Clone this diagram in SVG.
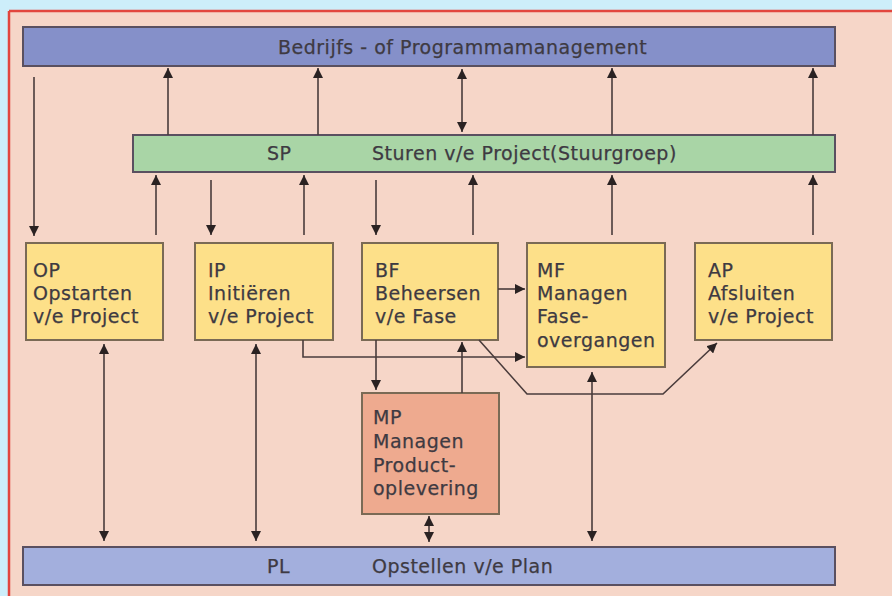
<svg xmlns="http://www.w3.org/2000/svg" width="892" height="596" viewBox="0 0 892 596">
  <defs>
    <marker id="ah" viewBox="0 0 10 10" refX="10" refY="5" markerWidth="10" markerHeight="10" markerUnits="userSpaceOnUse" orient="auto-start-reverse">
      <path d="M0,0 L10,5 L0,10 z" fill="#2a2222"/>
    </marker>
    <style>
      .bar { stroke: #5a5060; stroke-width: 2; }
      .box { stroke: #7a6a55; stroke-width: 2; }
      .t { font-family: "DejaVu Sans", "Open Sans", sans-serif; font-size: 19px; letter-spacing: 0.5px; fill: #3e3a42; stroke: #3e3a42; stroke-width: 0.25; }
      .c line, .c polyline { stroke: #4a3c3c; stroke-width: 1.6; fill: none; }
      .one { marker-end: url(#ah); }
      .two { marker-start: url(#ah); marker-end: url(#ah); }
    </style>
  </defs>

  <!-- page background and frame -->
  <rect x="0" y="0" width="892" height="596" fill="#cdeefa"/>
  <rect x="9" y="11" width="883" height="585" fill="#f6d6c8"/>
  <line x1="9" y1="11" x2="892" y2="11" stroke="#e2463e" stroke-width="2.5"/>
  <line x1="9" y1="11" x2="9" y2="596" stroke="#e2463e" stroke-width="2.5"/>

  <!-- top management bar -->
  <g id="top">
    <rect class="bar" x="23" y="27" width="812" height="39" fill="#8590c9"/>
    <text class="t" x="278" y="54">Bedrijfs - of Programmamanagement</text>
  </g>

  <!-- steering group bar -->
  <g id="sp">
    <rect class="bar" x="133" y="135" width="702" height="37" fill="#a9d5a6"/>
    <text class="t" x="267" y="160">SP</text>
    <text class="t" x="372" y="160">Sturen v/e Project(Stuurgroep)</text>
  </g>

  <!-- process boxes -->
  <g id="op">
    <rect class="box" x="26" y="243" width="137" height="97" fill="#fde089"/>
    <text class="t" x="33" y="277">OP</text>
    <text class="t" x="33" y="300">Opstarten</text>
    <text class="t" x="33" y="323">v/e Project</text>
  </g>
  <g id="ip">
    <rect class="box" x="195" y="243" width="138" height="97" fill="#fde089"/>
    <text class="t" x="208" y="277">IP</text>
    <text class="t" x="208" y="300">Initiëren</text>
    <text class="t" x="208" y="323">v/e Project</text>
  </g>
  <g id="bf">
    <rect class="box" x="362" y="243" width="136" height="97" fill="#fde089"/>
    <text class="t" x="375" y="277">BF</text>
    <text class="t" x="375" y="300">Beheersen</text>
    <text class="t" x="375" y="323">v/e Fase</text>
  </g>
  <g id="mf">
    <rect class="box" x="527" y="243" width="138" height="124" fill="#fde089"/>
    <text class="t" x="537" y="277">MF</text>
    <text class="t" x="537" y="300">Managen</text>
    <text class="t" x="537" y="323">Fase-</text>
    <text class="t" x="537" y="347">overgangen</text>
  </g>
  <g id="ap">
    <rect class="box" x="695" y="243" width="137" height="97" fill="#fde089"/>
    <text class="t" x="708" y="277">AP</text>
    <text class="t" x="708" y="300">Afsluiten</text>
    <text class="t" x="708" y="323">v/e Project</text>
  </g>
  <g id="mp">
    <rect class="box" x="362" y="393" width="137" height="121" fill="#eeaa8f"/>
    <text class="t" x="373" y="424">MP</text>
    <text class="t" x="373" y="448">Managen</text>
    <text class="t" x="373" y="472">Product-</text>
    <text class="t" x="373" y="495">oplevering</text>
  </g>

  <!-- plan bar -->
  <g id="pl">
    <rect class="bar" x="23" y="547" width="812" height="38" fill="#a3afdd"/>
    <text class="t" x="267" y="573">PL</text>
    <text class="t" x="372" y="573">Opstellen v/e Plan</text>
  </g>

  <!-- connectors -->
  <g id="connectors" class="c">
    <!-- management / steering -->
    <line class="one" x1="34" y1="77" x2="34" y2="236"/>
    <line class="one" x1="168" y1="135" x2="168" y2="68"/>
    <line class="one" x1="318" y1="135" x2="318" y2="68"/>
    <line class="two" x1="462" y1="69" x2="462" y2="132"/>
    <line class="one" x1="612" y1="135" x2="612" y2="68"/>
    <line class="one" x1="813" y1="135" x2="813" y2="68"/>

    <!-- steering / processes -->
    <line class="one" x1="156" y1="235" x2="156" y2="175"/>
    <line class="one" x1="211" y1="180" x2="211" y2="235"/>
    <line class="one" x1="304" y1="235" x2="304" y2="175"/>
    <line class="one" x1="376" y1="180" x2="376" y2="235"/>
    <line class="one" x1="473" y1="235" x2="473" y2="175"/>
    <line class="one" x1="612" y1="235" x2="612" y2="175"/>
    <line class="one" x1="813" y1="235" x2="813" y2="175"/>

    <!-- processes / plan -->
    <line class="two" x1="104" y1="344" x2="104" y2="541"/>
    <line class="two" x1="256" y1="344" x2="256" y2="541"/>
    <line class="two" x1="592" y1="372" x2="592" y2="541"/>
    <line class="two" x1="429" y1="516" x2="429" y2="542"/>

    <!-- between processes -->
    <line class="one" x1="498" y1="289" x2="525" y2="289"/>
    <polyline class="one" points="303,340 303,357 525,357"/>
    <line class="one" x1="376" y1="340" x2="376" y2="390"/>
    <line class="one" x1="462" y1="393" x2="462" y2="342"/>
    <polyline class="one" points="479,340 527,394 663,394 717,343"/>
  </g>
</svg>
